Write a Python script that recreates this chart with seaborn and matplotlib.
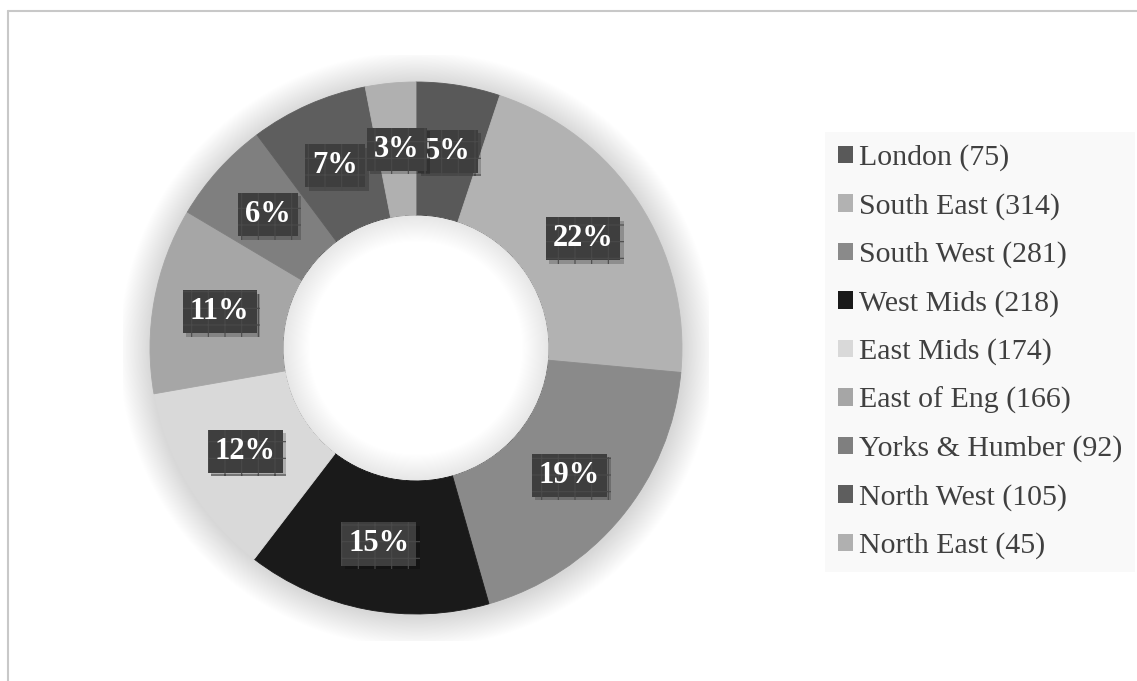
import matplotlib
matplotlib.use('Agg')
import matplotlib.pyplot as plt
import seaborn as sns
import numpy as np
from matplotlib.patches import Circle, Wedge
from matplotlib.lines import Line2D
import matplotlib.patheffects as pe

regions = ["London", "South East", "South West", "West Mids", "East Mids",
           "East of Eng", "Yorks & Humber", "North West", "North East"]
counts = [75, 314, 281, 218, 174, 166, 92, 105, 45]
pct_labels = ["5%", "22%", "19%", "15%", "12%", "11%", "6%", "7%", "3%"]
colors = ["#595959", "#b2b2b2", "#8a8a8a", "#1a1a1a", "#d9d9d9",
          "#a6a6a6", "#7f7f7f", "#5e5e5e", "#b0b0b0"]

sns.set_theme(style='white')
plt.rcParams['font.family'] = ['Liberation Serif', 'DejaVu Serif']
plt.rcParams['hatch.linewidth'] = 0.8

W, H = 1137, 681
fig = plt.figure(figsize=(W / 100, H / 100), dpi=100)
fig.patch.set_facecolor('white')

cx, cy, R = 416, 348, 266
half = R * 1.1
ax = fig.add_axes([(cx - half) / W, (H - cy - half) / H, 2 * half / W, 2 * half / H])

wedges, _ = ax.pie(counts, colors=colors, startangle=90, counterclock=False, radius=1.0,
                   wedgeprops=dict(width=0.5, linewidth=0))
ax.set_xlim(-1.1, 1.1)
ax.set_ylim(-1.1, 1.1)
ax.set_aspect('equal')
ax.axis('off')
for w in wedges:
    w.set_zorder(2)
    w.set_edgecolor(w.get_facecolor())
    w.set_linewidth(0.6)

# soft outer glow
for i in range(40):
    ax.add_patch(Circle((0.004, -0.006), 1.0 + 0.003 * (i + 1), facecolor='black',
                        alpha=0.0025, lw=0, zorder=0))
# white hole background
ax.add_patch(Circle((0, 0), 0.5, facecolor='white', lw=0, zorder=0.5))

# inner soft shadow inside the hole
for i in range(25):
    ax.add_patch(Wedge((0, 0), 0.5, 0, 360, width=0.004 * (i + 1), facecolor='black',
                       alpha=0.004, lw=0, zorder=3))

for w, lab in zip(wedges, pct_labels):
    ang = np.deg2rad((w.theta1 + w.theta2) / 2)
    x, y = 0.75 * np.cos(ang), 0.75 * np.sin(ang)
    t = ax.text(x, y, lab, ha='center', va='center', fontsize=22, fontweight='bold',
                color='white', zorder=6,
                bbox=dict(boxstyle='square,pad=0.23', facecolor='#3e3e3e',
                          edgecolor='#4a4a4a', linewidth=0, hatch='+'))
    t.get_bbox_patch().set_path_effects(
        [pe.SimplePatchShadow(offset=(2.5, -2.5), shadow_rgbFace='black', alpha=0.2), pe.Normal()])

leg = fig.legend(wedges, [f"{r} ({c})" for r, c in zip(regions, counts)],
                 loc='upper left', bbox_to_anchor=(825 / W, 1 - 132 / H),
                 fontsize=21.5, frameon=True, facecolor='#f9f9f9', edgecolor='none',
                 fancybox=False, framealpha=1, handlelength=0.52, handleheight=0.52,
                 handletextpad=0.2, labelspacing=0.72, borderpad=0.42, borderaxespad=0,
                 labelcolor='#404040')
leg.get_frame().set_linewidth(0)
for h in leg.legend_handles:
    h.set_linewidth(0)

# chart border (left and top visible)
fig.add_artist(Line2D([7.5 / W, 7.5 / W], [0, 1 - 10.5 / H], transform=fig.transFigure,
                      color='#c8c8c8', lw=1.5))
fig.add_artist(Line2D([7.5 / W, 1], [1 - 10.5 / H, 1 - 10.5 / H], transform=fig.transFigure,
                      color='#c8c8c8', lw=1.5))

fig.savefig('out.png', dpi=100)
